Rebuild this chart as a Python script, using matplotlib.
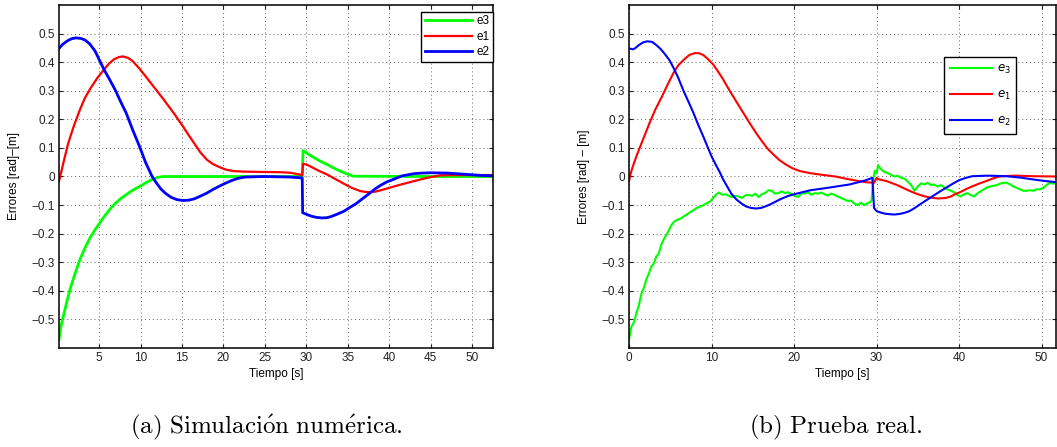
import matplotlib
matplotlib.use('Agg')
import matplotlib.pyplot as plt

plt.rcParams['font.family'] = ['Liberation Sans', 'DejaVu Sans']

# ---- (a) simulation data ----
sim_t_e3 = [0.17, 0.4, 0.7, 1.1, 1.5, 2.1, 2.7, 3.3, 3.9, 4.5, 5.1, 5.7, 6.3, 6.9, 7.5, 8.1, 8.7,
            9.3, 9.95, 10.7, 11.4, 12.1, 12.8, 20, 29.5,
            29.6, 30.3, 31, 31.7, 32.5, 33.2, 34, 34.8, 35.7, 45, 52.5]
sim_e3 = [-0.57, -0.525, -0.488, -0.44, -0.395, -0.34, -0.29, -0.25, -0.215, -0.187, -0.162, -0.137,
          -0.115, -0.096, -0.08, -0.067, -0.055, -0.044, -0.034, -0.021, -0.01, -0.003, 0.0, 0.0, 0.0,
          0.091, 0.077, 0.065, 0.053, 0.042, 0.031, 0.02, 0.01, 0.001, 0.0, 0.0]

sim_t_e1 = [0.17, 0.4, 0.8, 1.3, 2, 2.7, 3.3, 4, 4.8, 5.6, 6.2, 6.8, 7.4, 7.9, 8.5, 9, 9.8, 10.6,
            11.7, 12.8, 14, 15.1, 15.8, 16.5, 17.2, 18, 18.7, 19.5, 20.3, 21.2, 22.5, 24.4, 27, 28.1,
            29.5, 29.6, 30, 30.5, 31.5, 32.5, 33.5, 34.5, 35.5, 36.5, 37.1, 37.7, 38.3, 39, 40.2,
            41.4, 42.6, 43.8, 45, 46.2, 47.5, 52.5]
sim_e1 = [-0.016, 0.01, 0.06, 0.118, 0.18, 0.234, 0.275, 0.31, 0.345, 0.374, 0.395, 0.41, 0.418,
          0.42, 0.415, 0.405, 0.38, 0.351, 0.31, 0.269, 0.222, 0.176, 0.145, 0.115, 0.085, 0.059,
          0.044, 0.033, 0.024, 0.019, 0.017, 0.016, 0.015, 0.013, 0.005, 0.044, 0.042, 0.035,
          0.02, 0.007, -0.009, -0.025, -0.04, -0.051, -0.054, -0.055, -0.053, -0.048, -0.038,
          -0.028, -0.019, -0.01, -0.002, 0.004, 0.005, 0.005]

sim_t_e2 = [0.17, 0.6, 1.2, 1.7, 2.2, 2.8, 3.3, 3.9, 4.5, 5.0, 5.6, 6.3, 7, 7.6, 8.26, 9.1, 9.87,
            10.6, 11.4, 12, 12.5, 13.1, 13.7, 14.4, 15.1, 15.8, 16.5, 17.2, 18, 18.7, 19.5, 20.2,
            21, 21.8, 22.6, 25, 28, 29.5,
            29.55, 30, 30.5, 31.2, 31.9, 32.5, 33, 33.7, 34.5, 35.2, 36, 36.8, 37.7, 38.3, 39,
            39.7, 40.5, 41.5, 43, 44, 45, 47, 49, 51, 52.5]
sim_e2 = [0.448, 0.462, 0.475, 0.482, 0.485, 0.483, 0.478, 0.463, 0.44, 0.41, 0.374, 0.338, 0.30,
          0.262, 0.223, 0.16, 0.106, 0.05, 0.0, -0.026, -0.045, -0.061, -0.073, -0.081, -0.084,
          -0.083, -0.078, -0.069, -0.058, -0.046, -0.034, -0.024, -0.014, -0.006, -0.002, 0.0,
          -0.002, -0.005,
          -0.127, -0.132, -0.138, -0.143, -0.145, -0.144, -0.14, -0.132, -0.122, -0.109, -0.095,
          -0.077, -0.057, -0.043, -0.03, -0.019, -0.01, 0.002, 0.01, 0.012, 0.013, 0.012, 0.008,
          0.004, 0.002]

# ---- (b) real test data ----
real_t_e3 = [0.0, 0.3, 0.6, 0.9, 1.2, 1.5, 1.8, 2.1, 2.4, 2.7, 3.0, 3.3, 3.6, 3.9, 4.2, 4.5, 4.8,
             5.1, 5.4, 5.8, 6.2, 6.6, 7.0, 7.4, 7.8, 8.2, 8.6, 9.0, 9.4, 9.8, 10.2, 10.6, 10.9,
             11.3, 11.7, 12.1, 12.5, 12.9, 13.3, 13.7, 14.1, 14.5, 14.9, 15.3, 15.7, 16.1, 16.5,
             16.9, 17.3, 17.7, 18.1, 18.5, 18.9, 19.3, 19.7, 20.1, 20.5, 20.9, 21.3, 21.7, 22.1,
             22.5, 22.9, 23.3, 23.7, 24.1, 24.5, 24.9, 25.3, 25.7, 26.1, 26.5, 26.9, 27.3, 27.7,
             28.1, 28.5, 28.9, 29.2, 29.4, 29.6, 29.8, 30.0, 30.2, 30.4, 30.7, 31.0, 31.4, 31.8,
             32.2, 32.6, 33.0, 33.4, 33.8, 34.2, 34.6, 35.0, 35.4, 35.8, 36.2, 36.6, 37.0, 37.4,
             37.8, 38.2, 38.6, 39.0, 39.4, 39.8, 40.2, 40.6, 41.0, 41.4, 41.8, 42.2, 42.6, 43.0,
             43.4, 43.8, 44.2, 44.6, 45.0, 45.4, 45.8, 46.2, 46.6, 47.0, 47.4, 47.8, 48.2, 48.6,
             49.0, 49.4, 49.8, 50.2, 50.6, 51.0, 51.4, 51.8]
real_e3 = [-0.57, -0.525, -0.51, -0.477, -0.45, -0.41, -0.39, -0.36, -0.34, -0.315, -0.305, -0.28,
           -0.27, -0.24, -0.22, -0.205, -0.19, -0.172, -0.16, -0.152, -0.148, -0.14, -0.133, -0.125,
           -0.118, -0.11, -0.106, -0.1, -0.094, -0.088, -0.075, -0.062, -0.056, -0.064, -0.062,
           -0.068, -0.072, -0.068, -0.07, -0.075, -0.066, -0.064, -0.068, -0.06, -0.072, -0.062,
           -0.058, -0.048, -0.05, -0.06, -0.058, -0.052, -0.058, -0.055, -0.062, -0.068, -0.072,
           -0.058, -0.06, -0.055, -0.064, -0.058, -0.06, -0.056, -0.062, -0.067, -0.06, -0.064,
           -0.07, -0.075, -0.08, -0.086, -0.084, -0.095, -0.1, -0.092, -0.1, -0.094, -0.09, -0.085,
           -0.01, 0.02, 0.012, 0.04, 0.03, 0.022, 0.015, 0.012, 0.005, 0.0, 0.002, -0.005, -0.008,
           -0.018, -0.03, -0.05, -0.035, -0.024, -0.028, -0.022, -0.03, -0.028, -0.035, -0.03,
           -0.038, -0.045, -0.05, -0.055, -0.065, -0.07, -0.062, -0.058, -0.065, -0.07, -0.06,
           -0.052, -0.045, -0.038, -0.035, -0.032, -0.03, -0.025, -0.022, -0.022, -0.028, -0.035,
           -0.04, -0.045, -0.05, -0.05, -0.048, -0.05, -0.045, -0.045, -0.04, -0.03, -0.022,
           -0.025, -0.022]

real_t_e1 = [0, 0.2, 0.4, 0.9, 1.7, 2.5, 3.2, 4, 4.7, 5.4, 6, 6.7, 7.3, 8, 8.5, 9, 9.6, 10.2, 10.8,
             11.4, 12, 12.6, 13.2, 13.8, 14.4, 15, 15.6, 16.2, 16.8, 17.5, 18.2, 19, 19.8, 20.7,
             21.9, 23.1, 25, 26.7, 28.7, 29.7, 30, 30.3, 31.2, 32.5, 33.6, 34.3, 35, 35.8, 36.5,
             37.5, 38.4, 39, 39.5, 40.2, 40.8, 41.4, 42, 42.6, 43.3, 44.1, 44.9, 45.8, 46.9, 49,
             51.8]
real_e1 = [-0.016, 0.01, 0.03, 0.071, 0.13, 0.188, 0.235, 0.28, 0.323, 0.363, 0.39, 0.41, 0.425,
           0.432, 0.431, 0.425, 0.41, 0.392, 0.367, 0.34, 0.31, 0.281, 0.253, 0.225, 0.197, 0.17,
           0.144, 0.12, 0.097, 0.077, 0.058, 0.042, 0.029, 0.019, 0.012, 0.007, 0.0, -0.01, -0.02,
           -0.022, -0.005, -0.01, -0.016, -0.03, -0.045, -0.054, -0.062, -0.069, -0.074, -0.077,
           -0.075, -0.07, -0.062, -0.054, -0.045, -0.037, -0.03, -0.023, -0.016, -0.007, 0.0,
           0.002, 0.003, 0.001, 0.0]

real_t_e2 = [0, 0.5, 0.8, 1.2, 1.7, 2.2, 2.8, 3.3, 3.8, 4.3, 4.9, 5.4, 6, 6.6, 7.2, 7.8, 8.4, 9,
             9.5, 10, 10.5, 11, 11.4, 11.8, 12.4, 13, 13.6, 14.2, 14.8, 15.4, 16, 16.5, 17, 17.5,
             18.1, 18.7, 19.3, 19.9, 21, 22, 24, 26.7, 28.5, 29.5,
             29.7, 30, 30.5, 31, 31.6, 32.2, 32.8, 33.4, 34, 34.7, 35.4, 36.1, 36.8, 37.6, 38.4,
             39.2, 40, 40.8, 41.6, 43.5, 45.7, 47.5, 48.9, 50.5, 51.8]
real_e2 = [0.448, 0.445, 0.45, 0.46, 0.469, 0.473, 0.471, 0.46, 0.447, 0.43, 0.407, 0.38, 0.343,
           0.30, 0.262, 0.223, 0.18, 0.14, 0.105, 0.071, 0.042, 0.015, -0.01, -0.03, -0.06, -0.08,
           -0.094, -0.105, -0.11, -0.112, -0.11, -0.105, -0.099, -0.092, -0.083, -0.075, -0.068,
           -0.063, -0.055, -0.048, -0.04, -0.028, -0.015, -0.005,
           -0.11, -0.121, -0.126, -0.13, -0.132, -0.133, -0.131, -0.127, -0.121, -0.109, -0.095,
           -0.082, -0.069, -0.054, -0.04, -0.026, -0.013, -0.005, 0.001, 0.003, 0.001, -0.004,
           -0.01, -0.016, -0.02]

y_ticks = [-0.5, -0.4, -0.3, -0.2, -0.1, 0, 0.1, 0.2, 0.3, 0.4, 0.5]
y_labels = ['\u22120.5', '\u22120.4', '\u22120.3', '\u22120.2', '\u22120.1', '0',
            '0.1', '0.2', '0.3', '0.4', '0.5']

GREEN, RED, BLUE = '#00ff00', '#ff0000', '#0000ff'

fig = plt.figure(figsize=(10.57, 4.47), dpi=100)
ax1 = fig.add_axes([0.0558, 0.2215, 0.4106, 0.7673])
ax2 = fig.add_axes([0.5951, 0.2215, 0.4043, 0.7673])


def style(ax):
    ax.set_ylim(-0.6, 0.6)
    ax.set_yticks(y_ticks)
    ax.set_yticklabels(y_labels)
    ax.grid(True, linestyle=(0, (1, 3)), color='0.4', linewidth=0.7)
    ax.tick_params(direction='in', length=3, width=0.8, top=True, right=True,
                   labelsize=8.5, pad=3, colors='#222222')
    for s in ax.spines.values():
        s.set_linewidth(1.1)
    ax.set_xlabel('Tiempo [s]', fontsize=8.5, labelpad=3)


# (a)
ax1.plot(sim_t_e3, sim_e3, color=GREEN, lw=2.0, label='e3')
ax1.plot(sim_t_e1, sim_e1, color=RED, lw=1.6, label='e1')
ax1.plot(sim_t_e2, sim_e2, color=BLUE, lw=2.0, label='e2')
ax1.set_xlim(0.17, 52.5)
ax1.set_xticks([5, 10, 15, 20, 25, 30, 35, 40, 45, 50])
style(ax1)
ax1.set_ylabel('Errores [rad]\u2013[m]', fontsize=8.5)
ax1.yaxis.set_label_coords(-0.09, 0.5)
leg1 = ax1.legend(loc='upper right', bbox_to_anchor=(1.0, 0.98), borderaxespad=0,
                  fontsize=8.5, handlelength=4.0, handletextpad=0.35, labelspacing=0.3,
                  borderpad=0.3, fancybox=False, framealpha=1, edgecolor='black')
leg1.get_frame().set_linewidth(1.0)

# (b)
ax2.plot(real_t_e3, real_e3, color=GREEN, lw=1.5, label='$e_3$')
ax2.plot(real_t_e1, real_e1, color=RED, lw=1.5, label='$e_1$')
ax2.plot(real_t_e2, real_e2, color=BLUE, lw=1.5, label='$e_2$')
ax2.set_xlim(0, 51.8)
ax2.set_xticks([0, 10, 20, 30, 40, 50])
style(ax2)
ax2.set_ylabel('Errores [rad] \u2013 [m]', fontsize=8.5)
ax2.yaxis.set_label_coords(-0.091, 0.5)
leg2 = ax2.legend(loc='upper left', bbox_to_anchor=(0.737, 0.8475), borderaxespad=0,
                  fontsize=8.5, handlelength=3.6, handletextpad=0.35, labelspacing=1.1,
                  borderpad=0.5, fancybox=False, framealpha=1, edgecolor='black')
leg2.get_frame().set_linewidth(1.0)

# captions
fig.text(266 / 1057, 1 - 427 / 447, r'$\mathrm{(a)\ Simulaci\acute{o}n\ num\acute{e}rica.}$',
         ha='center', va='center', fontsize=18, math_fontfamily='cm')
fig.text(836 / 1057, 1 - 427 / 447, r'$\mathrm{(b)\ Prueba\ real.}$',
         ha='center', va='center', fontsize=18, math_fontfamily='cm')

fig.savefig('out.png', dpi=100)
